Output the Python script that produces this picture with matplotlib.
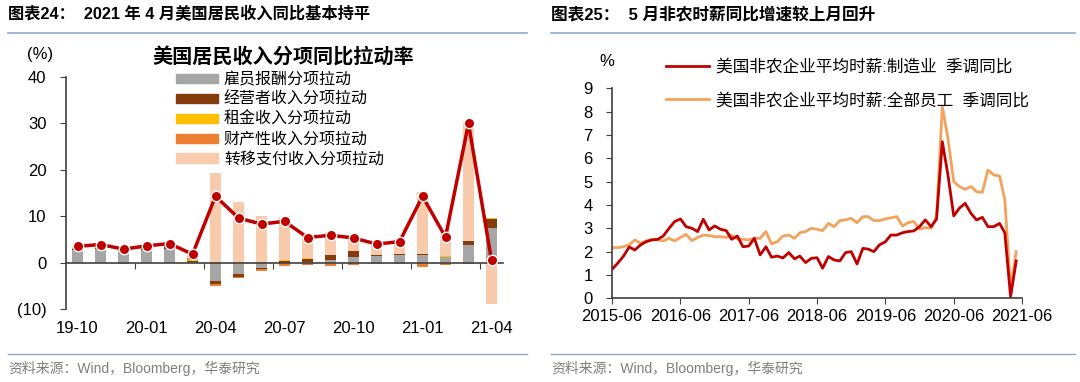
import matplotlib
matplotlib.use('Agg')
import matplotlib.pyplot as plt
import matplotlib.dates as mdates
from matplotlib.patches import Patch
from matplotlib.lines import Line2D
import pandas as pd
import numpy as np

plt.rcParams['font.family'] = ['Liberation Sans', 'Noto Sans CJK SC']
plt.rcParams['axes.unicode_minus'] = False

# ---- left chart: income contributions (pp) ----
months = ['19-10', '19-11', '19-12', '20-01', '20-02', '20-03', '20-04', '20-05', '20-06', '20-07',
          '20-08', '20-09', '20-10', '20-11', '20-12', '21-01', '21-02', '21-03', '21-04']
comp = [2.7, 2.9, 2.4, 2.7, 2.9, 0.2, -4.0, -2.5, -1.2, -0.2, 0.1, 0.6, 1.2, 1.5, 1.7, 1.7, 1.2, 3.7, 7.5]
proprietor = [0.2, 0.3, 0.2, 0.3, 0.4, 0.2, -0.7, -0.7, -0.2, 0.4, 0.7, 1.0, 1.2, 0.1, 0.1, 0.1, 0.1, 0.9, 2.0]
rental = [0.1, 0.1, 0.1, 0.1, 0.1, 0.1, 0.2, 0.1, 0.1, 0.1, 0.1, 0.1, 0.1, 0.1, 0.1, 0.1, 0.1, 0.1, 0.2]
asset = [0.2, 0.2, -0.3, 0.2, 0.2, 0.4, -0.3, -0.2, -0.4, -0.6, -0.6, -0.7, -0.6, -0.3, -0.3, -1.0, -0.5, -0.3, -0.2]
transfer = [0.3, 0.4, 0.5, 0.3, 0.5, 0.9, 19.1, 12.9, 10.0, 9.2, 5.1, 4.9, 3.4, 2.6, 2.9, 13.4, 4.6, 25.6, -8.7]
total = [3.5, 3.9, 2.9, 3.6, 4.1, 1.8, 14.3, 9.6, 8.3, 8.9, 5.4, 5.9, 5.3, 4.0, 4.5, 14.3, 5.5, 30.0, 0.5]

components = [comp, proprietor, rental, asset, transfer]
comp_names = ['雇员报酬分项拉动', '经营者收入分项拉动', '租金收入分项拉动', '财产性收入分项拉动', '转移支付收入分项拉动']
comp_colors = ['#A6A6A6', '#843C0C', '#FFC000', '#ED7D31', '#F8CBAD']

# ---- right chart: average hourly earnings yoy (%) ----
wage_start = '2015-06'
wage_mfg = [1.24, 1.5, 1.8, 2.2, 2.07, 2.29, 2.43, 2.5, 2.53, 2.67,
            3.0, 3.29, 3.4, 3.07, 3.0, 2.86, 3.39, 2.93, 3.1, 2.96,
            2.9, 2.53, 2.67, 2.21, 2.24, 2.57, 1.86, 2.21, 1.76, 1.81,
            1.73, 1.96, 1.69, 1.81, 1.53, 1.71, 1.74, 1.29, 1.79, 1.64,
            1.6, 1.96, 2.0, 1.47, 2.14, 2.11, 2.0, 2.29, 2.42, 2.71,
            2.71, 2.81, 2.86, 2.89, 3.07, 3.36, 3.07, 3.39, 6.71, 5.29,
            3.53, 3.86, 4.07, 3.64, 3.36, 3.47, 3.07, 3.07, 3.21, 2.81,
            0.07, 1.6]
wage_all = [2.17, 2.17, 2.21, 2.29, 2.5, 2.36, 2.46, 2.53, 2.5, 2.46,
            2.57, 2.46, 2.61, 2.74, 2.47, 2.61, 2.71, 2.69, 2.64, 2.64,
            2.61, 2.71, 2.54, 2.53, 2.5, 2.57, 2.57, 2.86, 2.33, 2.43,
            2.67, 2.71, 2.57, 2.81, 2.86, 3.0, 2.96, 2.9, 3.21, 3.07,
            3.33, 3.36, 3.43, 3.24, 3.5, 3.5, 3.33, 3.33, 3.4, 3.45,
            3.5, 3.1, 3.24, 3.29, 2.96, 3.03, 3.0, 3.5, 8.21, 6.86,
            5.0, 4.79, 4.67, 4.79, 4.57, 4.54, 5.5, 5.29, 5.24, 4.24,
            0.43, 2.0]
wage_names = ['美国非农企业平均时薪:制造业  季调同比', '美国非农企业平均时薪:全部员工  季调同比']
wage_colors = ['#C00000', '#F4A15C']

W, H = 1080, 382
fig = plt.figure(figsize=(10.8, 3.82), dpi=100)

# headers, separators, sources
hdr_line = '#8EA9CF'
fig.text(8 / W, 1 - 14 / H, '图表24：  2021 年 4 月美国居民收入同比基本持平', fontsize=11.7, fontweight='bold', va='center')
fig.text(551 / W, 1 - 14 / H, '图表25：  5 月非农时薪同比增速较上月回升', fontsize=12, fontweight='bold', va='center')
for x0, x1 in [(8, 527), (551, 1075)]:
    fig.add_artist(Line2D([x0 / W, x1 / W], [1 - 33 / H, 1 - 33 / H], color=hdr_line, lw=1.2))
    fig.add_artist(Line2D([x0 / W, x1 / W], [1 - 354 / H, 1 - 354 / H], color=hdr_line, lw=1.0))
    fig.text(x0 / W, 1 - 368 / H, '资料来源：Wind，Bloomberg，华泰研究', fontsize=10, color='#7F7F7F', va='center')

# ---- left axes ----
ax1 = fig.add_axes([66 / W, 1 - 309 / H, (503 - 66) / W, (309 - 77) / H])
x = np.arange(len(months))
pos_base = np.zeros(len(months))
neg_base = np.zeros(len(months))
for vals, color in zip(components, comp_colors):
    v = np.array(vals)
    base = np.where(v >= 0, pos_base, neg_base)
    ax1.bar(x, v, bottom=base, width=0.45, color=color, zorder=2)
    pos_base = pos_base + np.where(v >= 0, v, 0)
    neg_base = neg_base + np.where(v < 0, v, 0)
ax1.plot(x, total, color='#C00000', lw=2.5, marker='o', ms=7.5, mfc='#C00000', mec='white', mew=1, zorder=3)

ax1.set_xlim(-0.5, len(months) - 0.5)
ax1.set_ylim(-10, 40)
ax1.set_yticks([-10, 0, 10, 20, 30, 40])
ax1.set_yticklabels(['(10)', '0', '10', '20', '30', '40'], fontsize=12)
ax1.spines['top'].set_visible(False)
ax1.spines['right'].set_visible(False)
ax1.spines['bottom'].set_position(('data', 0))
for s in ['left', 'bottom']:
    ax1.spines[s].set_color('#404040')
    ax1.spines[s].set_linewidth(1.2)
ax1.set_xticks(np.arange(2.5, len(months) - 1, 3))
ax1.set_xticklabels([])
ax1.tick_params(axis='x', direction='out', length=4, color='#404040')
ax1.tick_params(axis='y', direction='out', length=4, pad=10, color='#404040')
for i in range(0, len(months), 3):
    ax1.text(i, -14.3, months[i], ha='center', va='center', fontsize=12)
fig.text(40 / W, 1 - 55 / H, '(%)', fontsize=12, ha='center', va='center')
fig.text(283 / W, 1 - 57 / H, '美国居民收入分项同比拉动率', fontsize=14.5, fontweight='bold', ha='center', va='center')
handles = [Patch(color=c) for c in comp_colors]
ax1.legend(handles, comp_names, loc='upper left', bbox_to_anchor=(176 / W, 1 - 72 / H),
           bbox_transform=fig.transFigure, frameon=False, fontsize=11.5, handlelength=2.6,
           handleheight=0.5, labelspacing=0.3, handletextpad=0.4, borderpad=0, borderaxespad=0)

# ---- right axes ----
ax2 = fig.add_axes([612 / W, 1 - 298.3 / H, (1022 - 612) / W, (298.3 - 88.3) / H])
dates = pd.date_range(wage_start, periods=len(wage_mfg), freq='MS')
ax2.plot(dates, wage_all, color=wage_colors[1], lw=2, label=wage_names[1])
ax2.plot(dates, wage_mfg, color=wage_colors[0], lw=2, label=wage_names[0])
ax2.set_ylim(0, 9)
ax2.set_yticks(range(0, 10))
ax2.set_xlim(pd.Timestamp('2015-06-01'), pd.Timestamp('2021-06-01'))
ax2.set_xticks(pd.date_range('2015-06-01', '2021-06-01', freq='12MS'))
ax2.xaxis.set_major_formatter(mdates.DateFormatter('%Y-%m'))
ax2.tick_params(axis='both', labelsize=12, direction='out', length=4, color='#404040')
ax2.tick_params(axis='y', pad=10)
ax2.spines['top'].set_visible(False)
ax2.spines['right'].set_visible(False)
for s in ['left', 'bottom']:
    ax2.spines[s].set_color('#404040')
    ax2.spines[s].set_linewidth(1.2)
fig.text(607 / W, 1 - 62 / H, '%', fontsize=12, ha='center', va='center')
lh = [Line2D([], [], color=c, lw=2) for c in wage_colors]
ax2.legend(lh, wage_names, loc='upper left', bbox_to_anchor=(666 / W, 1 - 59 / H),
           bbox_transform=fig.transFigure, frameon=False, fontsize=12, handlelength=2.6,
           labelspacing=1.05, handletextpad=0.4, borderpad=0, borderaxespad=0)

fig.savefig('out.png', dpi=100)
